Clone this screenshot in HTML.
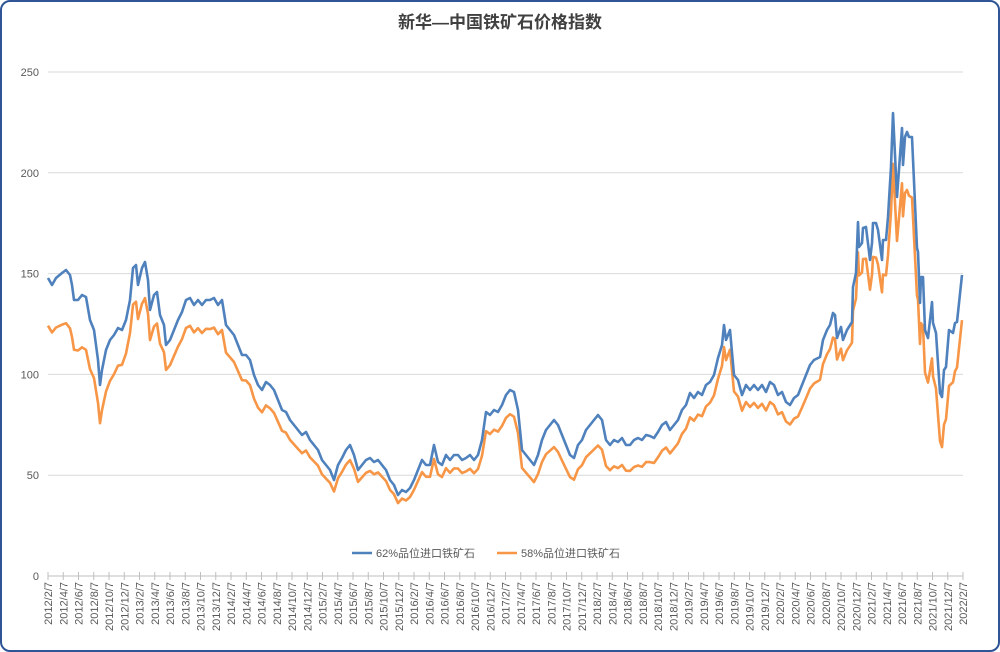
<!DOCTYPE html>
<html><head><meta charset="utf-8"><style>
body{margin:0;background:#fff;}
#c{position:absolute;left:0;top:0;width:996px;height:648px;border:2px solid #2f5597;border-radius:10px;background:#fff;}
text{font-family:"Liberation Sans","Noto Sans CJK SC",sans-serif;}
</style></head><body>
<div id="c"></div>
<svg id="s" width="1000" height="652" style="position:absolute;left:0;top:0">
<text x="500" y="28" text-anchor="middle" font-size="17" font-weight="bold" fill="#404040">新华—中国铁矿石价格指数</text>
<g id="grid"></g>
<polyline id="o" fill="none" stroke="#f79646" stroke-width="2.6" stroke-linejoin="round"/>
<polyline id="b" fill="none" stroke="#4f81bd" stroke-width="2.6" stroke-linejoin="round"/>
<line x1="352" y1="553" x2="372" y2="553" stroke="#4f81bd" stroke-width="2.6"/>
<text x="376" y="557" font-size="11" fill="#595959">62%品位进口铁矿石</text>
<line x1="497" y1="553" x2="517" y2="553" stroke="#f79646" stroke-width="2.6"/>
<text x="521" y="557" font-size="11" fill="#595959">58%品位进口铁矿石</text>
</svg>
<script>
var g=document.getElementById('grid'),h='';
for(var i=0;i<=5;i++){var y=576-i*100.8;h+='<line x1="48" x2="963" y1="'+y+'" y2="'+y+'" stroke="'+(i==0?'#bfbfbf':'#d9d9d9')+'"/>';h+='<text x="39" y="'+(y+4)+'" text-anchor="end" font-size="11" fill="#595959">'+(i*50)+'</text>';}
var yr=2012,m=2;
for(var k=0;k<=60;k++){var x=48+k*915/60;h+='<line x1="'+x+'" x2="'+x+'" y1="572" y2="580" stroke="#bfbfbf"/>';
h+='<text transform="translate('+(x+4)+',582) rotate(-90)" text-anchor="end" font-size="11" fill="#595959">'+yr+'/'+m+'/7</text>';m+=2;if(m>12){m-=12;yr++;}}
g.innerHTML=h;
var B=[48,278,52,285,56,278,62,273,66,270,70,275,72,285,74,300,78,300,82,295,86,297,90,320,94,330,98,360,100,385,102,370,106,350,110,340,114,335,118,328,122,330,126,320,130,300,133,268,136,265,138,285,142,268,145,262,148,280,150,310,154,295,157,292,160,315,164,325,166,345,170,340,174,330,178,320,182,312,186,300,190,298,194,305,198,300,202,305,206,300,210,300,214,298,218,305,222,300,226,325,230,330,234,335,238,345,242,355,246,355,250,360,254,375,258,385,262,390,266,382,270,385,274,390,278,400,282,410,286,412,290,420,294,425,298,430,302,435,306,432,310,440,314,445,318,450,322,460,326,465,330,470,334,480,338,465,342,458,346,450,350,445,354,455,358,470,362,465,366,460,370,458,374,462,378,460,382,465,386,470,390,480,394,485,398,495,402,490,406,492,410,488,414,480,418,470,422,460,426,465,430,465,434,445,438,462,442,465,446,455,450,460,454,455,458,455,462,460,466,458,470,455,474,460,478,455,482,440,486,412,490,415,494,410,498,412,502,405,506,395,510,390,514,392,518,410,522,450,526,455,530,460,534,465,538,455,542,440,546,430,550,425,554,420,558,425,562,435,566,445,570,455,574,458,578,445,582,440,586,430,590,425,594,420,598,415,602,420,606,440,610,445,614,440,618,442,622,438,626,445,630,445,634,440,638,438,642,440,646,435,650,436,654,438,658,432,662,425,666,422,670,430,674,425,678,420,682,410,686,405,690,393,694,398,698,392,702,395,706,385,710,382,714,375,718,358,722,345,724,325,726,340,730,330,734,375,738,380,742,395,746,385,750,390,754,385,758,390,762,385,766,392,770,382,774,385,778,395,782,392,786,402,790,405,794,398,798,395,802,385,806,375,810,365,814,360,820,357,823,340,827,330,830,325,833,313,835,315,837,338,841,327,843,340,847,330,852,322,853,287,856,273,858,222,859,247,862,243,863,228,866,227,870,260,872,243,873,223,876,223,878,230,882,260,883,240,886,240,888,217,891,167,893,113,897,197,902,128,903,165,905,137,907,132,909,137,912,137,917,248,918,252,920,303,921,277,923,277,925,330,928,338,932,302,933,323,936,333,940,393,942,397,944,370,946,367,949,330,953,333,955,323,957,322,962,275];
var R=[48,.84,100,.8,130,.88,190,.9,300,.87,400,.9,500,.88,560,.82,640,.8,700,.88,730,.92,800,.88,850,.92,893,.89,920,.85,935,.78,942,.72,950,.78,962,.85];
function r(x){for(var i=0;i<R.length-2;i+=2){if(x<=R[i+2]){var t=(x-R[i])/(R[i+2]-R[i]);return R[i+1]+t*(R[i+3]-R[i+1]);}}return .85;}
var pb='',po='';
for(var i=0;i<B.length;i+=2){var x=B[i],y=B[i+1];pb+=x+','+y+' ';var v=(576-y)/2.016;po+=x+','+(576-v*r(x)*2.016).toFixed(1)+' ';}
document.getElementById('b').setAttribute('points',pb);
document.getElementById('o').setAttribute('points',po);
</script>
</body></html>
